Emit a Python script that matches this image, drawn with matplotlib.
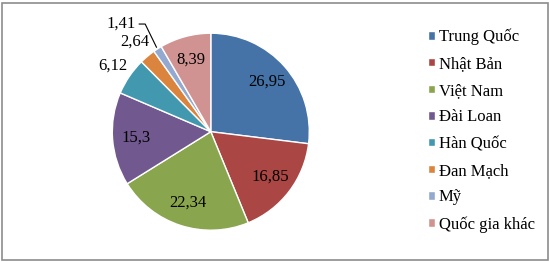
import numpy as np
import matplotlib
matplotlib.use("Agg")
import matplotlib.pyplot as plt
from matplotlib.patches import Rectangle

countries = ["Trung Quốc", "Nhật Bản", "Việt Nam", "Đài Loan", "Hàn Quốc",
             "Đan Mạch", "Mỹ", "Quốc gia khác"]
shares = [26.95, 16.85, 22.34, 15.3, 6.12, 2.64, 1.41, 8.39]
share_labels = ["26,95", "16,85", "22,34", "15,3", "6,12", "2,64", "1,41", "8,39"]
colors = ["#4572A7", "#AA4643", "#89A54E", "#71588F", "#4198AF",
          "#DB843D", "#93A9CF", "#D19392"]
# which labels sit outside the pie
outside = [False, False, False, False, True, True, True, False]

plt.rcParams["font.family"] = ["Liberation Serif", "DejaVu Serif"]
FS = 12

fig = plt.figure(figsize=(5.5, 2.62), dpi=100)
fig.patches.append(Rectangle((1.5 / 550, 2 / 262), 546 / 550, 257.5 / 262,
                             transform=fig.transFigure, fill=False,
                             edgecolor="#8c8c8c", lw=1.2))

# pie radius 98.5 px, centre at (210.8, 131.7) px from top-left
R = 98.5
cx, cy = 210.8, 131.7
ax = fig.add_axes([0, 0, 1, 1])
wedges, _ = ax.pie(shares, colors=colors, startangle=90, counterclock=False,
                   wedgeprops=dict(edgecolor="white", linewidth=1.0))
ax.set_xlim(-cx / R, (550 - cx) / R)
ax.set_ylim(-(262 - cy) / R, cy / R)
ax.set_aspect("auto")
ax.axis("off")

cum = np.cumsum(shares)
mids = (cum - np.array(shares) / 2) / sum(shares) * 360  # clockwise from top

for i, (lab, m) in enumerate(zip(share_labels, mids)):
    a = np.deg2rad(m)
    if countries[i] == "Mỹ":
        # leader line: slice edge -> up-left -> short horizontal -> label
        ex, ey = 1.02 * np.sin(a), 1.02 * np.cos(a)
        ly = 1.093
        b = np.deg2rad(116)
        t = (ly - ey) / np.sin(b)
        kx = ex + t * np.cos(b)
        ax.plot([ex, kx, kx - 0.06], [ey, ly, ly], color="black", lw=0.8)
        ax.text(kx - 0.095, ly, lab, ha="right", va="center", fontsize=FS)
        continue
    r = 1.2 if outside[i] else 0.76
    ax.text(r * np.sin(a), r * np.cos(a), lab, ha="center", va="center",
            fontsize=FS)

fig.legend(wedges, countries, loc="center left",
           bbox_to_anchor=(428 / 550, (262 - 130.7) / 262),
           frameon=False, fontsize=FS, handlelength=0.4, handleheight=0.4,
           handletextpad=0.25, labelspacing=0.64, borderpad=0, borderaxespad=0)

fig.savefig("out.png", dpi=100)
